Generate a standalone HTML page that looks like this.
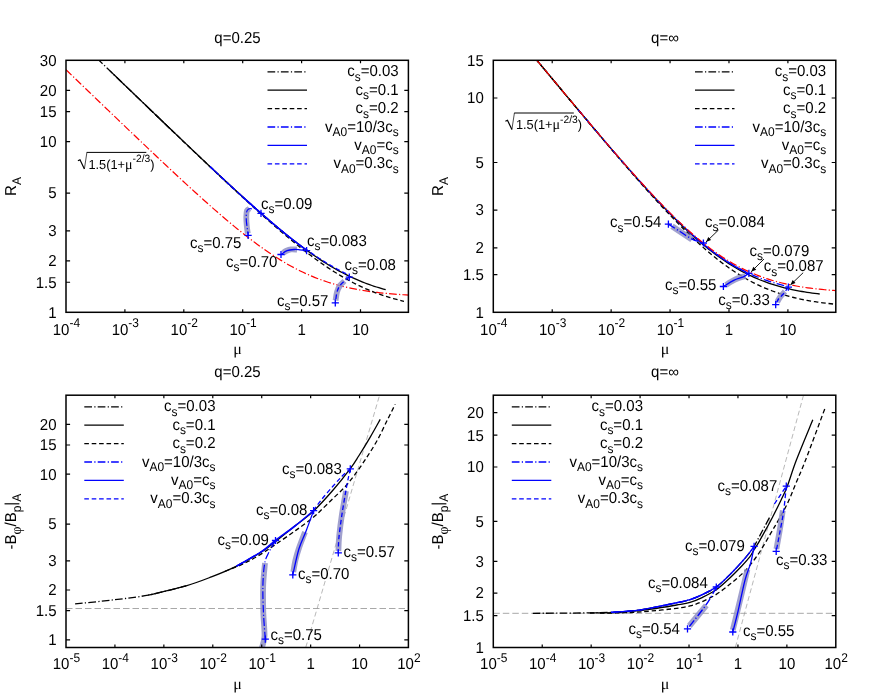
<!DOCTYPE html>
<html><head><meta charset="utf-8"><title>plot</title>
<style>html,body{margin:0;padding:0;background:#fff}svg{display:block;will-change:transform;opacity:0.9999}text{text-rendering:geometricPrecision}</style></head>
<body>
<svg width="872" height="698" viewBox="0 0 872 698">
<rect width="872" height="698" fill="#fff"/>
<clipPath id="c1"><rect x="66.0" y="60.3" width="342.4" height="252.0"/></clipPath>
<g clip-path="url(#c1)">
<path d="M66.00,69.73 L68.86,72.48 L71.71,75.24 L74.57,77.99 L77.43,80.74 L80.28,83.49 L83.14,86.24 L86.00,88.98 L88.85,91.73 L91.71,94.48 L94.57,97.23 L97.42,99.97 L100.28,102.71 L103.14,105.46 L105.99,108.20 L108.85,110.94 L111.71,113.68 L114.56,116.42 L117.42,119.15 L120.28,121.89 L123.13,124.62 L125.99,127.35 L128.85,130.08 L131.70,132.81 L134.56,135.53 L137.42,138.25 L140.27,140.97 L143.13,143.69 L145.99,146.40 L148.84,149.11 L151.70,151.82 L154.56,154.52 L157.41,157.22 L160.27,159.91 L163.13,162.60 L165.98,165.28 L168.84,167.96 L171.70,170.63 L174.55,173.29 L177.41,175.95 L180.27,178.60 L183.12,181.24 L185.98,183.87 L188.84,186.50 L191.69,189.11 L194.55,191.72 L197.41,194.31 L200.26,196.89 L203.12,199.46 L205.98,202.01 L208.83,204.55 L211.69,207.08 L214.55,209.58 L217.40,212.07 L220.26,214.55 L223.12,217.00 L225.97,219.43 L228.83,221.84 L231.69,224.23 L234.54,226.59 L237.40,228.92 L240.26,231.23 L243.11,233.51 L245.97,235.76 L248.83,237.98 L251.68,240.16 L254.54,242.31 L257.40,244.43 L260.25,246.51 L263.11,248.54 L265.97,250.54 L268.82,252.50 L271.68,254.41 L274.54,256.28 L277.39,258.10 L280.25,259.88 L283.11,261.61 L285.96,263.29 L288.82,264.92 L291.68,266.50 L294.53,268.03 L297.39,269.51 L300.25,270.94 L303.10,272.32 L305.96,273.65 L308.82,274.92 L311.67,276.15 L314.53,277.32 L317.39,278.44 L320.24,279.52 L323.10,280.54 L325.96,281.52 L328.81,282.46 L331.67,283.34 L334.53,284.19 L337.38,284.99 L340.24,285.74 L343.10,286.46 L345.95,287.14 L348.81,287.78 L351.66,288.39 L354.52,288.96 L357.38,289.50 L360.23,290.01 L363.09,290.48 L365.95,290.93 L368.80,291.35 L371.66,291.75 L374.52,292.12 L377.37,292.47 L380.23,292.79 L383.09,293.09 L385.94,293.38 L388.80,293.65 L391.66,293.90 L394.51,294.13 L397.37,294.35 L400.23,294.55 L403.08,294.74 L405.94,294.91 L408.80,295.08" fill="none" stroke="#ff0000" stroke-width="1.2" stroke-linecap="butt" stroke-linejoin="round" stroke-dasharray="7.7 2.3 1.2 2.2"/>
<path d="M97.00,58.37 L97.65,59.00 L98.30,59.63 L98.95,60.25 L99.60,60.88 L100.25,61.50 L100.90,62.13 L101.55,62.76 L102.20,63.38 L102.85,64.01 L103.50,64.64 L104.15,65.26 L104.80,65.89 L105.45,66.52 L106.10,67.14 L106.75,67.77 L107.40,68.40 L108.05,69.02 L108.70,69.65 L109.35,70.28 L110.00,70.90 L110.65,71.53 L111.30,72.15 L111.95,72.78 L112.60,73.41 L113.25,74.03 L113.90,74.66 L114.55,75.29 L115.20,75.91 L115.85,76.54 L116.50,77.16 L117.15,77.79 L117.80,78.42 L118.45,79.04 L119.10,79.67 L119.75,80.29 L120.40,80.92 L121.05,81.55 L121.70,82.17 L122.35,82.80 L123.00,83.42 L123.65,84.05 L124.30,84.68 L124.95,85.30 L125.60,85.93 L126.25,86.55 L126.90,87.18 L127.55,87.80 L128.20,88.43 L128.85,89.06 L129.50,89.68 L130.15,90.31 L130.80,90.93 L131.45,91.56 L132.10,92.18 L132.75,92.81 L133.40,93.43 L134.05,94.06 L134.70,94.68 L135.35,95.31 L136.00,95.93 L136.65,96.56 L137.30,97.18 L137.95,97.81 L138.60,98.43 L139.25,99.06 L139.90,99.68 L140.55,100.31 L141.20,100.93 L141.85,101.56 L142.50,102.18 L143.15,102.81 L143.80,103.43 L144.45,104.06 L145.10,104.68 L145.75,105.31 L146.40,105.93 L147.05,106.55 L147.70,107.18 L148.35,107.80 L149.00,108.43 L149.65,109.05 L150.30,109.68 L150.95,110.30 L151.60,110.92 L152.25,111.55 L152.90,112.17 L153.55,112.80 L154.20,113.42 L154.85,114.04 L155.50,114.67 L156.15,115.29 L156.80,115.91 L157.45,116.54 L158.10,117.16 L158.75,117.78 L159.40,118.41 L160.05,119.03 L160.70,119.65 L161.35,120.27 L162.00,120.90 L162.65,121.52 L163.30,122.14 L163.95,122.77 L164.60,123.39 L165.25,124.01 L165.90,124.63 L166.55,125.26 L167.20,125.88 L167.85,126.50 L168.50,127.12 L169.15,127.74 L169.80,128.37 L170.45,128.99 L171.10,129.61 L171.75,130.23 L172.40,130.85 L173.05,131.47 L173.70,132.09 L174.35,132.71 L175.00,133.34" fill="none" stroke="#000000" stroke-width="1.3" stroke-linecap="butt" stroke-linejoin="round" stroke-dasharray="7.7 2.3 1.2 2.2"/>
<path d="M150.00,109.43 L152.12,111.47 L154.23,113.50 L156.35,115.54 L158.47,117.57 L160.58,119.60 L162.70,121.63 L164.82,123.66 L166.93,125.69 L169.05,127.72 L171.17,129.75 L173.28,131.78 L175.40,133.81 L177.52,135.83 L179.63,137.86 L181.75,139.88 L183.87,141.91 L185.98,143.93 L188.10,145.95 L190.22,147.97 L192.33,149.99 L194.45,152.00 L196.57,154.02 L198.68,156.03 L200.80,158.04 L202.92,160.05 L205.03,162.06 L207.15,164.07 L209.27,166.07 L211.38,168.07 L213.50,170.07 L215.62,172.07 L217.73,174.06 L219.85,176.06 L221.97,178.04 L224.08,180.03 L226.20,182.01 L228.32,183.99 L230.43,185.97 L232.55,187.94 L234.67,189.91 L236.78,191.87 L238.90,193.83 L241.02,195.79 L243.13,197.74 L245.25,199.68 L247.37,201.62 L249.48,203.56 L251.60,205.49 L253.72,207.41 L255.83,209.33 L257.95,211.24 L260.07,213.14 L262.18,215.03 L264.30,216.92 L266.42,218.80 L268.53,220.67 L270.65,222.53 L272.77,224.38 L274.88,226.23 L277.00,228.06 L279.12,229.88 L281.23,231.69 L283.35,233.49 L285.47,235.28 L287.58,237.05 L289.70,238.81 L291.82,240.56 L293.93,242.29 L296.05,244.01 L298.17,245.71 L300.28,247.40 L302.40,249.07 L304.52,250.72 L306.63,252.36 L308.75,253.97 L310.87,255.57 L312.98,257.15 L315.10,258.71 L317.22,260.25 L319.33,261.76 L321.45,263.26 L323.57,264.73 L325.68,266.18 L327.80,267.61 L329.92,269.01 L332.03,270.38 L334.15,271.74 L336.27,273.06 L338.38,274.36 L340.50,275.64 L342.62,276.89 L344.73,278.11 L346.85,279.30 L348.97,280.47 L351.08,281.60 L353.20,282.71 L355.32,283.80 L357.43,284.85 L359.55,285.88 L361.67,286.88 L363.78,287.85 L365.90,288.79 L368.02,289.70 L370.13,290.59 L372.25,291.45 L374.37,292.28 L376.48,293.08 L378.60,293.86 L380.72,294.61 L382.83,295.33 L384.95,296.03 L387.07,296.71 L389.18,297.36 L391.30,297.98 L393.42,298.58 L395.53,299.16 L397.65,299.72 L399.77,300.25 L401.88,300.77 L404.00,301.26" fill="none" stroke="#000000" stroke-width="1.3" stroke-linecap="butt" stroke-linejoin="round" stroke-dasharray="4.6 2.8"/>
<path d="M110.00,70.90 L112.30,73.12 L114.59,75.33 L116.89,77.54 L119.19,79.75 L121.49,81.97 L123.78,84.18 L126.08,86.39 L128.38,88.60 L130.68,90.81 L132.98,93.02 L135.27,95.23 L137.57,97.44 L139.87,99.65 L142.16,101.86 L144.46,104.07 L146.76,106.28 L149.06,108.48 L151.35,110.69 L153.65,112.89 L155.95,115.10 L158.25,117.30 L160.54,119.50 L162.84,121.70 L165.14,123.91 L167.44,126.10 L169.73,128.30 L172.03,130.50 L174.33,132.70 L176.63,134.89 L178.93,137.08 L181.22,139.27 L183.52,141.46 L185.82,143.65 L188.12,145.84 L190.41,148.02 L192.71,150.20 L195.01,152.38 L197.31,154.56 L199.60,156.74 L201.90,158.91 L204.20,161.08 L206.50,163.25 L208.79,165.41 L211.09,167.57 L213.39,169.73 L215.69,171.88 L217.98,174.03 L220.28,176.18 L222.58,178.32 L224.88,180.45 L227.17,182.59 L229.47,184.71 L231.77,186.83 L234.06,188.95 L236.36,191.06 L238.66,193.16 L240.96,195.26 L243.25,197.35 L245.55,199.43 L247.85,201.50 L250.15,203.57 L252.44,205.63 L254.74,207.67 L257.04,209.71 L259.34,211.74 L261.63,213.76 L263.93,215.76 L266.23,217.76 L268.53,219.74 L270.83,221.71 L273.12,223.67 L275.42,225.61 L277.72,227.53 L280.01,229.44 L282.31,231.34 L284.61,233.22 L286.91,235.08 L289.20,236.92 L291.50,238.74 L293.80,240.55 L296.10,242.33 L298.39,244.09 L300.69,245.83 L302.99,247.54 L305.29,249.24 L307.58,250.90 L309.88,252.55 L312.18,254.17 L314.48,255.76 L316.77,257.32 L319.07,258.85 L321.37,260.36 L323.67,261.84 L325.96,263.29 L328.26,264.70 L330.56,266.09 L332.86,267.44 L335.16,268.77 L337.45,270.06 L339.75,271.32 L342.05,272.54 L344.35,273.74 L346.64,274.90 L348.94,276.02 L351.24,277.12 L353.54,278.18 L355.83,279.20 L358.13,280.20 L360.43,281.16 L362.73,282.09 L365.02,282.99 L367.32,283.85 L369.62,284.69 L371.92,285.49 L374.21,286.26 L376.51,287.00 L378.81,287.72 L381.11,288.40 L383.40,289.06 L385.70,289.69" fill="none" stroke="#000000" stroke-width="1.3" stroke-linecap="butt" stroke-linejoin="round"/>
<path d="M210.00,166.55 L210.80,167.30 L211.60,168.05 L212.40,168.80 L213.20,169.55 L214.00,170.30 L214.80,171.05 L215.60,171.80 L216.40,172.55 L217.20,173.30 L218.00,174.05 L218.80,174.80 L219.60,175.54 L220.40,176.29 L221.20,177.03 L222.00,177.78 L222.80,178.52 L223.60,179.27 L224.40,180.01 L225.20,180.76 L226.00,181.50 L226.80,182.24 L227.60,182.98 L228.40,183.72 L229.20,184.46 L230.00,185.20 L230.80,185.94 L231.60,186.68 L232.40,187.42 L233.20,188.15 L234.00,188.89 L234.80,189.63 L235.60,190.36 L236.40,191.09 L237.20,191.83 L238.00,192.56 L238.80,193.29 L239.60,194.02 L240.40,194.75 L241.20,195.48 L242.00,196.21 L242.80,196.93 L243.60,197.66 L244.40,198.39 L245.20,199.11 L246.00,199.83 L246.80,200.56 L247.60,201.28 L248.40,202.00 L249.20,202.72 L250.00,203.44 L250.80,204.15 L251.60,204.87 L252.40,205.59 L253.20,206.30 L254.00,207.01 L254.80,207.73 L255.60,208.44 L256.40,209.15 L257.20,209.85 L258.00,210.56 L258.80,211.27 L259.60,211.97 L260.40,212.67 L261.20,213.38 L262.00,214.08 L262.80,214.78 L263.60,215.47 L264.40,216.17 L265.20,216.87 L266.00,217.56 L266.80,218.25 L267.60,218.94 L268.40,219.63 L269.20,220.32 L270.00,221.00 L270.80,221.69 L271.60,222.37 L272.40,223.05 L273.20,223.73 L274.00,224.41 L274.80,225.08 L275.60,225.76 L276.40,226.43 L277.20,227.10 L278.00,227.77 L278.80,228.44 L279.60,229.10 L280.40,229.76 L281.20,230.42 L282.00,231.08 L282.80,231.74 L283.60,232.39 L284.40,233.05 L285.20,233.70 L286.00,234.34 L286.80,234.99 L287.60,235.63 L288.40,236.28 L289.20,236.92 L290.00,237.55 L290.80,238.19 L291.60,238.82 L292.40,239.45 L293.20,240.08 L294.00,240.70 L294.80,241.32 L295.60,241.94 L296.40,242.56 L297.20,243.18 L298.00,243.79 L298.80,244.40 L299.60,245.00 L300.40,245.61 L301.20,246.21 L302.00,246.81 L302.80,247.40 L303.60,248.00 L304.40,248.59 L305.20,249.17 L306.00,249.76 L306.00,249.28 L306.36,249.54 L306.72,249.80 L307.08,250.06 L307.44,250.31 L307.80,250.57 L308.16,250.83 L308.53,251.08 L308.89,251.34 L309.25,251.59 L309.61,251.84 L309.97,252.10 L310.33,252.35 L310.69,252.60 L311.05,252.85 L311.41,253.10 L311.77,253.35 L312.13,253.60 L312.50,253.85 L312.86,254.09 L313.22,254.34 L313.58,254.59 L313.94,254.83 L314.30,255.08 L314.66,255.32 L315.02,255.56 L315.38,255.81 L315.74,256.05 L316.10,256.29 L316.46,256.53 L316.83,256.77 L317.19,257.01 L317.55,257.25 L317.91,257.48 L318.27,257.72 L318.63,257.96 L318.99,258.19 L319.35,258.43 L319.71,258.66 L320.07,258.90 L320.43,259.13 L320.79,259.36 L321.15,259.59 L321.52,259.82 L321.88,260.05 L322.24,260.28 L322.60,260.51 L322.96,260.74 L323.32,260.96 L323.68,261.19 L324.04,261.41 L324.40,261.64 L324.76,261.86 L325.12,262.09 L325.48,262.31 L325.85,262.53 L326.21,262.75 L326.57,262.97 L326.93,263.19 L327.29,263.41 L327.65,263.62 L328.01,263.84 L328.37,264.06 L328.73,264.27 L329.09,264.49 L329.45,264.70 L329.81,264.91 L330.18,265.13 L330.54,265.34 L330.90,265.55 L331.26,265.76 L331.62,265.97 L331.98,266.18 L332.34,266.38 L332.70,266.59 L333.06,266.80 L333.42,267.00 L333.78,267.21 L334.14,267.41 L334.51,267.61 L334.87,267.81 L335.23,268.02 L335.59,268.22 L335.95,268.42 L336.31,268.61 L336.67,268.81 L337.03,269.01 L337.39,269.21 L337.75,269.40 L338.11,269.60 L338.47,269.79 L338.84,269.98 L339.20,270.18 L339.56,270.37 L339.92,270.56 L340.28,270.75 L340.64,270.94 L341.00,271.13 L341.36,271.31 L341.72,271.50 L342.08,271.69 L342.44,271.87 L342.81,272.05 L343.17,272.24 L343.53,272.42 L343.89,272.60 L344.25,272.78 L344.61,272.96 L344.97,273.14 L345.33,273.32 L345.69,273.50 L346.05,273.68 L346.41,273.85 L346.77,274.03 L347.13,274.20 L347.50,274.38 L347.86,274.55 L348.22,274.72 L348.58,274.89 L348.94,275.06 L349.30,275.23" fill="none" stroke="#0000ff" stroke-width="1.3" stroke-linecap="butt" stroke-linejoin="round" stroke-dasharray="4.6 2.8"/>
<path d="M210.00,166.55 L210.43,166.95 L210.85,167.35 L211.27,167.74 L211.70,168.14 L212.12,168.54 L212.55,168.94 L212.97,169.34 L213.40,169.74 L213.82,170.14 L214.25,170.54 L214.68,170.94 L215.10,171.33 L215.52,171.73 L215.95,172.13 L216.38,172.53 L216.80,172.93 L217.22,173.32 L217.65,173.72 L218.07,174.12 L218.50,174.51 L218.93,174.91 L219.35,175.31 L219.77,175.71 L220.20,176.10 L220.62,176.50 L221.05,176.89 L221.47,177.29 L221.90,177.69 L222.32,178.08 L222.75,178.48 L223.18,178.87 L223.60,179.27 L224.02,179.66 L224.45,180.06 L224.88,180.45 L225.30,180.85 L225.72,181.24 L226.15,181.64 L226.57,182.03 L227.00,182.43 L227.43,182.82 L227.85,183.21 L228.27,183.61 L228.70,184.00 L229.12,184.39 L229.55,184.79 L229.97,185.18 L230.40,185.57 L230.82,185.96 L231.25,186.36 L231.68,186.75 L232.10,187.14 L232.52,187.53 L232.95,187.92 L233.38,188.31 L233.80,188.71 L234.22,189.10 L234.65,189.49 L235.07,189.88 L235.50,190.27 L235.92,190.66 L236.35,191.05 L236.77,191.44 L237.20,191.83 L237.62,192.22 L238.05,192.60 L238.47,192.99 L238.90,193.38 L239.32,193.77 L239.75,194.16 L240.17,194.55 L240.60,194.93 L241.03,195.32 L241.45,195.71 L241.88,196.09 L242.30,196.48 L242.72,196.87 L243.15,197.25 L243.57,197.64 L244.00,198.02 L244.42,198.41 L244.85,198.79 L245.28,199.18 L245.70,199.56 L246.12,199.95 L246.55,200.33 L246.97,200.71 L247.40,201.10 L247.83,201.48 L248.25,201.86 L248.67,202.25 L249.10,202.63 L249.53,203.01 L249.95,203.39 L250.38,203.77 L250.80,204.15 L251.22,204.54 L251.65,204.92 L252.07,205.30 L252.50,205.68 L252.92,206.06 L253.35,206.43 L253.77,206.81 L254.20,207.19 L254.62,207.57 L255.05,207.95 L255.47,208.33 L255.90,208.70 L256.33,209.08 L256.75,209.46 L257.17,209.83 L257.60,210.21 L258.02,210.58 L258.45,210.96 L258.88,211.33 L259.30,211.71 L259.73,212.08 L260.15,212.46 L260.57,212.83 L261.00,213.20" fill="none" stroke="#0000ff" stroke-width="1.3" stroke-linecap="butt" stroke-linejoin="round" stroke-dasharray="7.7 2.3 1.2 2.2"/>
<path d="M244.00,198.02 L244.52,198.50 L245.04,198.97 L245.56,199.44 L246.08,199.91 L246.60,200.38 L247.12,200.85 L247.65,201.32 L248.17,201.79 L248.69,202.26 L249.21,202.73 L249.73,203.19 L250.25,203.66 L250.77,204.13 L251.29,204.60 L251.81,205.06 L252.33,205.53 L252.85,205.99 L253.38,206.46 L253.90,206.92 L254.42,207.38 L254.94,207.85 L255.46,208.31 L255.98,208.77 L256.50,209.23 L257.02,209.70 L257.54,210.16 L258.06,210.62 L258.58,211.08 L259.10,211.54 L259.62,211.99 L260.15,212.45 L260.67,212.91 L261.19,213.37 L261.71,213.82 L262.23,214.28 L262.75,214.73 L263.27,215.19 L263.79,215.64 L264.31,216.09 L264.83,216.55 L265.35,217.00 L265.88,217.45 L266.40,217.90 L266.92,218.35 L267.44,218.80 L267.96,219.25 L268.48,219.70 L269.00,220.15 L269.52,220.59 L270.04,221.04 L270.56,221.49 L271.08,221.93 L271.60,222.37 L272.12,222.82 L272.65,223.26 L273.17,223.70 L273.69,224.14 L274.21,224.58 L274.73,225.02 L275.25,225.46 L275.77,225.90 L276.29,226.34 L276.81,226.78 L277.33,227.21 L277.85,227.65 L278.38,228.08 L278.90,228.52 L279.42,228.95 L279.94,229.38 L280.46,229.81 L280.98,230.24 L281.50,230.67 L282.02,231.10 L282.54,231.53 L283.06,231.95 L283.58,232.38 L284.10,232.80 L284.62,233.23 L285.15,233.65 L285.67,234.07 L286.19,234.50 L286.71,234.92 L287.23,235.34 L287.75,235.75 L288.27,236.17 L288.79,236.59 L289.31,237.00 L289.83,237.42 L290.35,237.83 L290.88,238.25 L291.40,238.66 L291.92,239.07 L292.44,239.48 L292.96,239.89 L293.48,240.29 L294.00,240.70 L294.52,241.11 L295.04,241.51 L295.56,241.91 L296.08,242.32 L296.60,242.72 L297.12,243.12 L297.65,243.52 L298.17,243.91 L298.69,244.31 L299.21,244.71 L299.73,245.10 L300.25,245.49 L300.77,245.89 L301.29,246.28 L301.81,246.67 L302.33,247.06 L302.85,247.44 L303.38,247.83 L303.90,248.21 L304.42,248.60 L304.94,248.98 L305.46,249.36 L305.98,249.74 L306.50,250.12" fill="none" stroke="#0000ff" stroke-width="1.5" stroke-linecap="butt" stroke-linejoin="round"/>
<path d="M249.50,208.60 C249.08,208.92 247.53,209.10 247.00,210.50 C246.47,211.90 246.33,214.42 246.30,217.00 C246.27,219.58 246.55,223.25 246.80,226.00 C247.05,228.75 247.63,232.25 247.80,233.50" fill="none" stroke="#9090c6" stroke-width="5.8" stroke-linecap="butt" stroke-linejoin="round" stroke-opacity="0.85"/>
<path d="M252.00,208.80 C251.43,208.82 249.50,208.37 248.60,208.90 C247.70,209.43 246.98,210.15 246.60,212.00 C246.22,213.85 246.20,217.33 246.30,220.00 C246.40,222.67 246.88,225.45 247.20,228.00 C247.52,230.55 248.03,234.08 248.20,235.30" fill="none" stroke="#0000ff" stroke-width="1.2" stroke-linecap="butt" stroke-linejoin="round" stroke-dasharray="7.7 2.3 1.2 2.2"/>
<path d="M297.00,249.60 C296.00,249.57 292.83,249.17 291.00,249.40 C289.17,249.63 287.33,250.40 286.00,251.00 C284.67,251.60 283.50,252.67 283.00,253.00" fill="none" stroke="#9090c6" stroke-width="5.8" stroke-linecap="butt" stroke-linejoin="round" stroke-opacity="0.85"/>
<path d="M306.50,250.50 C305.42,250.38 302.03,249.97 300.00,249.80 C297.97,249.63 296.45,249.37 294.30,249.50 C292.15,249.63 289.32,249.77 287.10,250.60 C284.88,251.43 282.02,253.85 281.00,254.50" fill="none" stroke="#0000ff" stroke-width="1.3" stroke-linecap="butt" stroke-linejoin="round"/>
<path d="M344.50,281.00 C343.75,281.75 341.25,283.67 340.00,285.50 C338.75,287.33 337.73,289.50 337.00,292.00 C336.27,294.50 335.83,299.08 335.60,300.50" fill="none" stroke="#9090c6" stroke-width="5.8" stroke-linecap="butt" stroke-linejoin="round" stroke-opacity="0.85"/>
<path d="M349.30,277.10 C348.58,277.67 346.55,279.10 345.00,280.50 C343.45,281.90 341.33,283.58 340.00,285.50 C338.67,287.42 337.77,289.10 337.00,292.00 C336.23,294.90 335.67,301.08 335.40,302.90" fill="none" stroke="#0000ff" stroke-width="1.3" stroke-linecap="butt" stroke-linejoin="round" stroke-dasharray="4.6 2.8"/>
</g>
<path d="M257.40,213.30H264.60M261.00,209.70V216.90" stroke="#0000ff" stroke-width="1.3" fill="none"/>
<path d="M244.50,235.30H251.70M248.10,231.70V238.90" stroke="#0000ff" stroke-width="1.3" fill="none"/>
<path d="M303.00,250.60H310.20M306.60,247.00V254.20" stroke="#0000ff" stroke-width="1.3" fill="none"/>
<path d="M277.40,254.50H284.60M281.00,250.90V258.10" stroke="#0000ff" stroke-width="1.3" fill="none"/>
<path d="M345.70,277.10H352.90M349.30,273.50V280.70" stroke="#0000ff" stroke-width="1.3" fill="none"/>
<path d="M331.70,302.90H338.90M335.30,299.30V306.50" stroke="#0000ff" stroke-width="1.3" fill="none"/>
<rect x="66.0" y="60.3" width="342.4" height="252.0" fill="none" stroke="#000" stroke-width="1.5"/>
<path d="M124.90,312.3v-3.0M124.90,60.3v3.0M183.80,312.3v-3.0M183.80,60.3v3.0M242.70,312.3v-3.0M242.70,60.3v3.0M301.60,312.3v-3.0M301.60,60.3v3.0M360.50,312.3v-3.0M360.50,60.3v3.0" stroke="#000" stroke-width="1.2" fill="none"/>
<path d="M66.0,282.26h4.1M408.4,282.26h-4.1M66.0,260.94h4.1M408.4,260.94h-4.1M66.0,230.90h4.1M408.4,230.90h-4.1M66.0,193.06h4.1M408.4,193.06h-4.1M66.0,141.70h4.1M408.4,141.70h-4.1M66.0,111.66h4.1M408.4,111.66h-4.1M66.0,90.34h4.1M408.4,90.34h-4.1" stroke="#000" stroke-width="1.2" fill="none"/>
<text transform="translate(66.40,334.60) scale(0.95,1)" font-family='"Liberation Sans", sans-serif' font-size="15.8" text-anchor="middle">10<tspan font-size="12.6" dy="-7.5">-4</tspan></text>
<text transform="translate(125.30,334.60) scale(0.95,1)" font-family='"Liberation Sans", sans-serif' font-size="15.8" text-anchor="middle">10<tspan font-size="12.6" dy="-7.5">-3</tspan></text>
<text transform="translate(184.20,334.60) scale(0.95,1)" font-family='"Liberation Sans", sans-serif' font-size="15.8" text-anchor="middle">10<tspan font-size="12.6" dy="-7.5">-2</tspan></text>
<text transform="translate(243.10,334.60) scale(0.95,1)" font-family='"Liberation Sans", sans-serif' font-size="15.8" text-anchor="middle">10<tspan font-size="12.6" dy="-7.5">-1</tspan></text>
<text transform="translate(301.60,334.60) scale(0.95,1)" font-family='"Liberation Sans", sans-serif' font-size="15.8" text-anchor="middle" >1</text>
<text transform="translate(360.50,334.60) scale(0.95,1)" font-family='"Liberation Sans", sans-serif' font-size="15.8" text-anchor="middle" >10</text>
<text transform="translate(56.50,317.60) scale(0.95,1)" font-family='"Liberation Sans", sans-serif' font-size="15.8" text-anchor="end" >1</text>
<text transform="translate(56.50,287.56) scale(0.95,1)" font-family='"Liberation Sans", sans-serif' font-size="15.8" text-anchor="end" >1.5</text>
<text transform="translate(56.50,266.24) scale(0.95,1)" font-family='"Liberation Sans", sans-serif' font-size="15.8" text-anchor="end" >2</text>
<text transform="translate(56.50,236.20) scale(0.95,1)" font-family='"Liberation Sans", sans-serif' font-size="15.8" text-anchor="end" >3</text>
<text transform="translate(56.50,198.36) scale(0.95,1)" font-family='"Liberation Sans", sans-serif' font-size="15.8" text-anchor="end" >5</text>
<text transform="translate(56.50,147.00) scale(0.95,1)" font-family='"Liberation Sans", sans-serif' font-size="15.8" text-anchor="end" >10</text>
<text transform="translate(56.50,116.96) scale(0.95,1)" font-family='"Liberation Sans", sans-serif' font-size="15.8" text-anchor="end" >15</text>
<text transform="translate(56.50,95.64) scale(0.95,1)" font-family='"Liberation Sans", sans-serif' font-size="15.8" text-anchor="end" >20</text>
<text transform="translate(56.50,65.60) scale(0.95,1)" font-family='"Liberation Sans", sans-serif' font-size="15.8" text-anchor="end" >30</text>
<path d="M267.50,71.80H307.00" fill="none" stroke="#000000" stroke-width="1.3" stroke-linecap="butt" stroke-linejoin="round" stroke-dasharray="7.7 2.3 1.2 2.2"/>
<text transform="translate(398.70,76.40) scale(0.95,1)" font-family='"Liberation Sans", sans-serif' font-size="15.8" text-anchor="end">c<tspan font-size="12.6" dy="4.3">s</tspan><tspan dy="-4.3">=0.03</tspan></text>
<path d="M267.50,90.20H307.00" fill="none" stroke="#000000" stroke-width="1.3" stroke-linecap="butt" stroke-linejoin="round"/>
<text transform="translate(398.70,94.80) scale(0.95,1)" font-family='"Liberation Sans", sans-serif' font-size="15.8" text-anchor="end">c<tspan font-size="12.6" dy="4.3">s</tspan><tspan dy="-4.3">=0.1</tspan></text>
<path d="M267.50,108.60H307.00" fill="none" stroke="#000000" stroke-width="1.3" stroke-linecap="butt" stroke-linejoin="round" stroke-dasharray="4.6 2.8"/>
<text transform="translate(398.70,113.20) scale(0.95,1)" font-family='"Liberation Sans", sans-serif' font-size="15.8" text-anchor="end">c<tspan font-size="12.6" dy="4.3">s</tspan><tspan dy="-4.3">=0.2</tspan></text>
<path d="M267.50,127.00H307.00" fill="none" stroke="#0000ff" stroke-width="1.3" stroke-linecap="butt" stroke-linejoin="round" stroke-dasharray="7.7 2.3 1.2 2.2"/>
<text transform="translate(398.70,131.60) scale(0.95,1)" font-family='"Liberation Sans", sans-serif' font-size="15.8" text-anchor="end">v<tspan font-size="12.6" dy="4.3">A0</tspan><tspan dy="-4.3">=10/3c</tspan><tspan font-size="12.6" dy="4.3">s</tspan></text>
<path d="M267.50,145.40H307.00" fill="none" stroke="#0000ff" stroke-width="1.3" stroke-linecap="butt" stroke-linejoin="round"/>
<text transform="translate(398.70,150.00) scale(0.95,1)" font-family='"Liberation Sans", sans-serif' font-size="15.8" text-anchor="end">v<tspan font-size="12.6" dy="4.3">A0</tspan><tspan dy="-4.3">=c</tspan><tspan font-size="12.6" dy="4.3">s</tspan></text>
<path d="M267.50,163.80H307.00" fill="none" stroke="#0000ff" stroke-width="1.3" stroke-linecap="butt" stroke-linejoin="round" stroke-dasharray="4.6 2.8"/>
<text transform="translate(398.70,168.40) scale(0.95,1)" font-family='"Liberation Sans", sans-serif' font-size="15.8" text-anchor="end">v<tspan font-size="12.6" dy="4.3">A0</tspan><tspan dy="-4.3">=0.3c</tspan><tspan font-size="12.6" dy="4.3">s</tspan></text>
<path d="M77.90,160.70L80.00,159.70L84.40,168.90" fill="none" stroke="#000" stroke-width="1.2" stroke-linejoin="miter"/>
<path d="M84.40,168.90L86.90,152.40" fill="none" stroke="#000" stroke-width="0.7"/>
<path d="M86.70,152.40H146.30" fill="none" stroke="#000" stroke-width="1.0"/>
<text transform="translate(88.40,168.70) scale(0.97,1)" font-family='"Liberation Sans", sans-serif' font-size="13.2">1.5(1+<tspan font-family='"Liberation Serif", serif' font-size="14.5">μ</tspan><tspan font-size="10.6" dy="-6.3">-2/3</tspan><tspan dy="6.3">)</tspan></text>
<text transform="translate(261.00,208.70) scale(0.95,1)" font-family='"Liberation Sans", sans-serif' font-size="15.8" text-anchor="start">c<tspan font-size="12.6" dy="4.3">s</tspan><tspan dy="-4.3">=0.09</tspan></text>
<text transform="translate(190.00,247.50) scale(0.95,1)" font-family='"Liberation Sans", sans-serif' font-size="15.8" text-anchor="start">c<tspan font-size="12.6" dy="4.3">s</tspan><tspan dy="-4.3">=0.75</tspan></text>
<text transform="translate(307.00,245.50) scale(0.95,1)" font-family='"Liberation Sans", sans-serif' font-size="15.8" text-anchor="start">c<tspan font-size="12.6" dy="4.3">s</tspan><tspan dy="-4.3">=0.083</tspan></text>
<text transform="translate(226.00,267.00) scale(0.95,1)" font-family='"Liberation Sans", sans-serif' font-size="15.8" text-anchor="start">c<tspan font-size="12.6" dy="4.3">s</tspan><tspan dy="-4.3">=0.70</tspan></text>
<text transform="translate(344.50,270.00) scale(0.95,1)" font-family='"Liberation Sans", sans-serif' font-size="15.8" text-anchor="start">c<tspan font-size="12.6" dy="4.3">s</tspan><tspan dy="-4.3">=0.08</tspan></text>
<text transform="translate(277.00,306.00) scale(0.95,1)" font-family='"Liberation Sans", sans-serif' font-size="15.8" text-anchor="start">c<tspan font-size="12.6" dy="4.3">s</tspan><tspan dy="-4.3">=0.57</tspan></text>
<text transform="translate(237.50,42.50) scale(0.95,1)" font-family='"Liberation Sans", sans-serif' font-size="15.8" text-anchor="middle" >q=0.25</text>
<text x="237.5" y="354.4" font-family='"Liberation Serif", serif' font-size="16" text-anchor="middle">μ</text>
<text transform="translate(16,195.9) rotate(-90) scale(0.95,1)" font-family='"Liberation Sans", sans-serif' font-size="15.8">R<tspan font-size="12.6" dy="5">A</tspan></text>
<clipPath id="c2"><rect x="493.3" y="60.3" width="342.49999999999994" height="252.0"/></clipPath>
<g clip-path="url(#c2)">
<path d="M516.87,36.14 L519.53,39.35 L522.19,42.57 L524.85,45.78 L527.51,49.00 L530.17,52.21 L532.84,55.43 L535.50,58.64 L538.16,61.85 L540.82,65.06 L543.48,68.27 L546.14,71.47 L548.80,74.68 L551.46,77.88 L554.13,81.09 L556.79,84.29 L559.45,87.49 L562.11,90.68 L564.77,93.88 L567.43,97.07 L570.09,100.26 L572.75,103.45 L575.41,106.63 L578.08,109.82 L580.74,113.00 L583.40,116.17 L586.06,119.34 L588.72,122.51 L591.38,125.68 L594.04,128.84 L596.70,131.99 L599.37,135.14 L602.03,138.29 L604.69,141.43 L607.35,144.56 L610.01,147.69 L612.67,150.81 L615.33,153.92 L617.99,157.03 L620.66,160.12 L623.32,163.21 L625.98,166.29 L628.64,169.36 L631.30,172.41 L633.96,175.46 L636.62,178.49 L639.28,181.51 L641.95,184.52 L644.61,187.51 L647.27,190.49 L649.93,193.45 L652.59,196.39 L655.25,199.31 L657.91,202.22 L660.57,205.10 L663.24,207.96 L665.90,210.80 L668.56,213.62 L671.22,216.41 L673.88,219.17 L676.54,221.90 L679.20,224.61 L681.86,227.28 L684.52,229.92 L687.19,232.53 L689.85,235.10 L692.51,237.64 L695.17,240.13 L697.83,242.59 L700.49,245.00 L703.15,247.37 L705.81,249.70 L708.48,251.99 L711.14,254.22 L713.80,256.41 L716.46,258.54 L719.12,260.63 L721.78,262.67 L724.44,264.65 L727.10,266.58 L729.77,268.46 L732.43,270.28 L735.09,272.04 L737.75,273.75 L740.41,275.41 L743.07,277.00 L745.73,278.55 L748.39,280.03 L751.06,281.46 L753.72,282.84 L756.38,284.16 L759.04,285.43 L761.70,286.64 L764.36,287.81 L767.02,288.92 L769.68,289.98 L772.35,290.99 L775.01,291.96 L777.67,292.88 L780.33,293.75 L782.99,294.59 L785.65,295.37 L788.31,296.12 L790.97,296.83 L793.63,297.50 L796.30,298.14 L798.96,298.74 L801.62,299.31 L804.28,299.84 L806.94,300.35 L809.60,300.83 L812.26,301.28 L814.92,301.70 L817.59,302.10 L820.25,302.47 L822.91,302.83 L825.57,303.16 L828.23,303.47 L830.89,303.76 L833.55,304.03 L836.21,304.29" fill="none" stroke="#000000" stroke-width="1.3" stroke-linecap="butt" stroke-linejoin="round" stroke-dasharray="4.6 2.8"/>
<path d="M516.87,36.11 L519.39,39.15 L521.92,42.20 L524.44,45.25 L526.96,48.30 L529.49,51.34 L532.01,54.38 L534.53,57.43 L537.06,60.47 L539.58,63.51 L542.10,66.55 L544.63,69.59 L547.15,72.62 L549.67,75.66 L552.20,78.69 L554.72,81.72 L557.25,84.75 L559.77,87.78 L562.29,90.81 L564.82,93.83 L567.34,96.85 L569.86,99.87 L572.39,102.88 L574.91,105.90 L577.43,108.91 L579.96,111.91 L582.48,114.91 L585.01,117.91 L587.53,120.91 L590.05,123.90 L592.58,126.88 L595.10,129.86 L597.62,132.84 L600.15,135.81 L602.67,138.77 L605.19,141.73 L607.72,144.68 L610.24,147.63 L612.76,150.56 L615.29,153.49 L617.81,156.41 L620.34,159.32 L622.86,162.23 L625.38,165.12 L627.91,168.00 L630.43,170.87 L632.95,173.72 L635.48,176.57 L638.00,179.40 L640.52,182.22 L643.05,185.02 L645.57,187.80 L648.10,190.57 L650.62,193.32 L653.14,196.05 L655.67,198.77 L658.19,201.46 L660.71,204.13 L663.24,206.77 L665.76,209.40 L668.28,212.00 L670.81,214.57 L673.33,217.11 L675.85,219.62 L678.38,222.11 L680.90,224.56 L683.43,226.98 L685.95,229.37 L688.47,231.72 L691.00,234.04 L693.52,236.32 L696.04,238.55 L698.57,240.75 L701.09,242.91 L703.61,245.03 L706.14,247.10 L708.66,249.13 L711.19,251.11 L713.71,253.04 L716.23,254.93 L718.76,256.77 L721.28,258.56 L723.80,260.31 L726.33,262.00 L728.85,263.64 L731.37,265.24 L733.90,266.78 L736.42,268.27 L738.94,269.72 L741.47,271.11 L743.99,272.45 L746.52,273.75 L749.04,274.99 L751.56,276.19 L754.09,277.34 L756.61,278.44 L759.13,279.49 L761.66,280.51 L764.18,281.47 L766.70,282.40 L769.23,283.28 L771.75,284.12 L774.28,284.92 L776.80,285.69 L779.32,286.42 L781.85,287.11 L784.37,287.76 L786.89,288.39 L789.42,288.98 L791.94,289.54 L794.46,290.07 L796.99,290.57 L799.51,291.05 L802.03,291.50 L804.56,291.92 L807.08,292.33 L809.61,292.71 L812.13,293.06 L814.65,293.40 L817.18,293.72 L819.70,294.02" fill="none" stroke="#000000" stroke-width="1.3" stroke-linecap="butt" stroke-linejoin="round"/>
<path d="M516.87,36.09 L517.56,36.92 L518.25,37.76 L518.95,38.60 L519.64,39.43 L520.33,40.27 L521.02,41.11 L521.72,41.94 L522.41,42.78 L523.10,43.61 L523.80,44.45 L524.49,45.29 L525.18,46.12 L525.87,46.96 L526.57,47.79 L527.26,48.63 L527.95,49.46 L528.65,50.30 L529.34,51.13 L530.03,51.97 L530.72,52.80 L531.42,53.64 L532.11,54.47 L532.80,55.31 L533.49,56.14 L534.19,56.98 L534.88,57.81 L535.57,58.65 L536.27,59.48 L536.96,60.32 L537.65,61.15 L538.34,61.99 L539.04,62.82 L539.73,63.65 L540.42,64.49 L541.11,65.32 L541.81,66.15 L542.50,66.99 L543.19,67.82 L543.89,68.65 L544.58,69.49 L545.27,70.32 L545.96,71.15 L546.66,71.99 L547.35,72.82 L548.04,73.65 L548.74,74.48 L549.43,75.32 L550.12,76.15 L550.81,76.98 L551.51,77.81 L552.20,78.64 L552.89,79.48 L553.58,80.31 L554.28,81.14 L554.97,81.97 L555.66,82.80 L556.36,83.63 L557.05,84.46 L557.74,85.29 L558.43,86.12 L559.13,86.95 L559.82,87.78 L560.51,88.61 L561.21,89.44 L561.90,90.27 L562.59,91.10 L563.28,91.93 L563.98,92.76 L564.67,93.59 L565.36,94.41 L566.05,95.24 L566.75,96.07 L567.44,96.90 L568.13,97.72 L568.83,98.55 L569.52,99.38 L570.21,100.21 L570.90,101.03 L571.60,101.86 L572.29,102.69 L572.98,103.51 L573.67,104.34 L574.37,105.16 L575.06,105.99 L575.75,106.81 L576.45,107.64 L577.14,108.46 L577.83,109.28 L578.52,110.11 L579.22,110.93 L579.91,111.75 L580.60,112.58 L581.30,113.40 L581.99,114.22 L582.68,115.04 L583.37,115.87 L584.07,116.69 L584.76,117.51 L585.45,118.33 L586.14,119.15 L586.84,119.97 L587.53,120.79 L588.22,121.61 L588.92,122.43 L589.61,123.24 L590.30,124.06 L590.99,124.88 L591.69,125.70 L592.38,126.51 L593.07,127.33 L593.77,128.15 L594.46,128.96 L595.15,129.78 L595.84,130.59 L596.54,131.41 L597.23,132.22 L597.92,133.03 L598.61,133.85 L599.31,134.66 L600.00,135.47" fill="none" stroke="#000000" stroke-width="1.3" stroke-linecap="butt" stroke-linejoin="round" stroke-dasharray="7.7 2.3 1.2 2.2"/>
<path d="M578.00,109.53 L579.75,111.62 L581.51,113.70 L583.26,115.79 L585.01,117.87 L586.77,119.94 L588.52,122.02 L590.27,124.09 L592.03,126.17 L593.78,128.24 L595.53,130.30 L597.29,132.37 L599.04,134.43 L600.79,136.49 L602.55,138.54 L604.30,140.59 L606.05,142.64 L607.81,144.69 L609.56,146.73 L611.31,148.77 L613.07,150.80 L614.82,152.83 L616.57,154.85 L618.33,156.88 L620.08,158.89 L621.83,160.90 L623.59,162.91 L625.34,164.91 L627.09,166.91 L628.85,168.90 L630.60,170.88 L632.35,172.86 L634.11,174.83 L635.86,176.80 L637.61,178.75 L639.37,180.70 L641.12,182.65 L642.87,184.58 L644.63,186.51 L646.38,188.43 L648.13,190.34 L649.89,192.24 L651.64,194.14 L653.39,196.02 L655.15,197.89 L656.90,199.75 L658.65,201.60 L660.41,203.44 L662.16,205.27 L663.91,207.09 L665.67,208.90 L667.42,210.69 L669.17,212.47 L670.93,214.23 L672.68,215.98 L674.43,217.72 L676.19,219.44 L677.94,221.15 L679.69,222.84 L681.45,224.52 L683.20,226.18 L684.95,227.82 L686.71,229.45 L688.46,231.06 L690.21,232.65 L691.97,234.22 L693.72,235.77 L695.47,237.30 L697.23,238.82 L698.98,240.31 L700.73,241.78 L702.49,243.23 L704.24,244.67 L705.99,246.07 L707.75,247.46 L709.50,248.83 L711.25,250.17 L713.01,251.49 L714.76,252.79 L716.51,254.06 L718.27,255.31 L720.02,256.54 L721.77,257.74 L723.53,258.92 L725.28,260.08 L727.03,261.21 L728.79,262.31 L730.54,263.40 L732.29,264.45 L734.05,265.49 L735.80,266.50 L737.55,267.48 L739.31,268.45 L741.06,269.38 L742.81,270.30 L744.57,271.19 L746.32,272.05 L748.07,272.90 L749.83,273.72 L751.58,274.51 L753.33,275.29 L755.09,276.04 L756.84,276.77 L758.59,277.48 L760.35,278.16 L762.10,278.83 L763.85,279.47 L765.61,280.10 L767.36,280.70 L769.11,281.29 L770.87,281.86 L772.62,282.40 L774.37,282.93 L776.13,283.44 L777.88,283.94 L779.63,284.41 L781.39,284.87 L783.14,285.32 L784.89,285.74 L786.65,286.16 L788.40,286.55" fill="none" stroke="#0000ff" stroke-width="1.3" stroke-linecap="butt" stroke-linejoin="round" stroke-dasharray="7.7 2.3 1.2 2.2"/>
<path d="M690.00,232.62 L690.49,233.07 L690.98,233.51 L691.47,233.95 L691.96,234.39 L692.45,234.83 L692.95,235.26 L693.44,235.70 L693.93,236.13 L694.42,236.56 L694.91,237.00 L695.40,237.42 L695.89,237.85 L696.38,238.28 L696.87,238.70 L697.36,239.13 L697.85,239.55 L698.34,239.97 L698.84,240.39 L699.33,240.80 L699.82,241.22 L700.31,241.63 L700.80,242.04 L701.29,242.45 L701.78,242.86 L702.27,243.27 L702.76,243.67 L703.25,244.08 L703.74,244.48 L704.23,244.88 L704.73,245.28 L705.22,245.67 L705.71,246.07 L706.20,246.46 L706.69,246.85 L707.18,247.25 L707.67,247.63 L708.16,248.02 L708.65,248.40 L709.14,248.79 L709.63,249.17 L710.12,249.55 L710.62,249.93 L711.11,250.30 L711.60,250.68 L712.09,251.05 L712.58,251.42 L713.07,251.79 L713.56,252.16 L714.05,252.52 L714.54,252.89 L715.03,253.25 L715.52,253.61 L716.01,253.97 L716.50,254.32 L717.00,254.68 L717.49,255.03 L717.98,255.38 L718.47,255.73 L718.96,256.08 L719.45,256.42 L719.94,256.77 L720.43,257.11 L720.92,257.45 L721.41,257.78 L721.90,258.12 L722.39,258.45 L722.89,258.79 L723.38,259.12 L723.87,259.45 L724.36,259.77 L724.85,260.10 L725.34,260.42 L725.83,260.74 L726.32,261.06 L726.81,261.38 L727.30,261.69 L727.79,262.00 L728.28,262.32 L728.78,262.63 L729.27,262.93 L729.76,263.24 L730.25,263.54 L730.74,263.85 L731.23,264.15 L731.72,264.44 L732.21,264.74 L732.70,265.03 L733.19,265.33 L733.68,265.62 L734.17,265.91 L734.67,266.19 L735.16,266.48 L735.65,266.76 L736.14,267.04 L736.63,267.32 L737.12,267.60 L737.61,267.87 L738.10,268.15 L738.59,268.42 L739.08,268.69 L739.57,268.95 L740.07,269.22 L740.56,269.48 L741.05,269.75 L741.54,270.01 L742.03,270.27 L742.52,270.52 L743.01,270.78 L743.50,271.03 L743.99,271.28 L744.48,271.53 L744.97,271.78 L745.46,272.02 L745.95,272.27 L746.45,272.51 L746.94,272.75 L747.43,272.99 L747.92,273.22 L748.41,273.46 L748.90,273.69" fill="none" stroke="#0000ff" stroke-width="1.3" stroke-linecap="butt" stroke-linejoin="round"/>
<path d="M493.30,7.60 L496.16,11.06 L499.02,14.51 L501.87,17.97 L504.73,21.42 L507.59,24.88 L510.45,28.33 L513.30,31.78 L516.16,35.23 L519.02,38.68 L521.88,42.13 L524.73,45.58 L527.59,49.03 L530.45,52.47 L533.31,55.92 L536.16,59.36 L539.02,62.80 L541.88,66.24 L544.74,69.68 L547.59,73.11 L550.45,76.55 L553.31,79.98 L556.17,83.40 L559.03,86.83 L561.88,90.25 L564.74,93.67 L567.60,97.09 L570.46,100.50 L573.31,103.91 L576.17,107.31 L579.03,110.71 L581.89,114.10 L584.74,117.49 L587.60,120.87 L590.46,124.25 L593.32,127.62 L596.17,130.98 L599.03,134.34 L601.89,137.68 L604.75,141.02 L607.60,144.35 L610.46,147.67 L613.32,150.98 L616.18,154.27 L619.04,157.56 L621.89,160.83 L624.75,164.08 L627.61,167.33 L630.47,170.55 L633.32,173.76 L636.18,176.95 L639.04,180.12 L641.90,183.27 L644.75,186.40 L647.61,189.51 L650.47,192.59 L653.33,195.64 L656.18,198.67 L659.04,201.67 L661.90,204.63 L664.76,207.57 L667.61,210.47 L670.47,213.33 L673.33,216.16 L676.19,218.94 L679.05,221.69 L681.90,224.39 L684.76,227.04 L687.62,229.65 L690.48,232.21 L693.33,234.72 L696.19,237.18 L699.05,239.58 L701.91,241.93 L704.76,244.22 L707.62,246.45 L710.48,248.62 L713.34,250.73 L716.19,252.78 L719.05,254.77 L721.91,256.69 L724.77,258.55 L727.62,260.35 L730.48,262.08 L733.34,263.74 L736.20,265.35 L739.06,266.88 L741.91,268.36 L744.77,269.77 L747.63,271.12 L750.49,272.41 L753.34,273.64 L756.20,274.81 L759.06,275.93 L761.92,276.98 L764.77,277.99 L767.63,278.94 L770.49,279.84 L773.35,280.70 L776.20,281.50 L779.06,282.26 L781.92,282.98 L784.78,283.66 L787.63,284.30 L790.49,284.89 L793.35,285.46 L796.21,285.99 L799.07,286.48 L801.92,286.95 L804.78,287.38 L807.64,287.79 L810.50,288.18 L813.35,288.53 L816.21,288.87 L819.07,289.18 L821.93,289.47 L824.78,289.75 L827.64,290.00 L830.50,290.24 L833.36,290.46 L836.21,290.67" fill="none" stroke="#ff0000" stroke-width="1.2" stroke-linecap="butt" stroke-linejoin="round" stroke-dasharray="7.7 2.3 1.2 2.2"/>
<path d="M672.00,226.20 L692.00,239.40" fill="none" stroke="#9090c6" stroke-width="6" stroke-linecap="butt" stroke-linejoin="round" stroke-opacity="0.85"/>
<path d="M668.40,224.10 C670.33,225.33 676.07,229.02 680.00,231.50 C683.93,233.98 688.10,237.08 692.00,239.00 C695.90,240.92 701.50,242.33 703.40,243.00" fill="none" stroke="#0000ff" stroke-width="1.4" stroke-linecap="butt" stroke-linejoin="round" stroke-dasharray="7.7 2.3 1.2 2.2"/>
<path d="M745.50,276.00 C744.25,276.38 740.42,277.33 738.00,278.30 C735.58,279.27 733.00,280.68 731.00,281.80 C729.00,282.92 726.83,284.47 726.00,285.00" fill="none" stroke="#9090c6" stroke-width="5.8" stroke-linecap="butt" stroke-linejoin="round" stroke-opacity="0.85"/>
<path d="M748.90,273.40 C747.98,273.97 745.92,275.65 743.40,276.80 C740.88,277.95 737.08,278.68 733.75,280.30 C730.42,281.92 725.12,285.47 723.40,286.50" fill="none" stroke="#0000ff" stroke-width="1.3" stroke-linecap="butt" stroke-linejoin="round"/>
<path d="M785.00,291.50 C784.25,292.33 781.78,294.75 780.50,296.50 C779.22,298.25 777.83,301.08 777.30,302.00" fill="none" stroke="#9090c6" stroke-width="5.8" stroke-linecap="butt" stroke-linejoin="round" stroke-opacity="0.85"/>
<path d="M788.40,287.10 C787.55,288.25 784.95,292.02 783.30,294.00 C781.65,295.98 779.77,297.23 778.50,299.00 C777.23,300.77 776.17,303.67 775.70,304.60" fill="none" stroke="#0000ff" stroke-width="1.3" stroke-linecap="butt" stroke-linejoin="round" stroke-dasharray="4.6 2.8"/>
</g>
<path d="M664.80,224.10H672.00M668.40,220.50V227.70" stroke="#0000ff" stroke-width="1.3" fill="none"/>
<path d="M699.80,243.00H707.00M703.40,239.40V246.60" stroke="#0000ff" stroke-width="1.3" fill="none"/>
<path d="M745.30,273.40H752.50M748.90,269.80V277.00" stroke="#0000ff" stroke-width="1.3" fill="none"/>
<path d="M719.80,286.50H727.00M723.40,282.90V290.10" stroke="#0000ff" stroke-width="1.3" fill="none"/>
<path d="M784.80,287.10H792.00M788.40,283.50V290.70" stroke="#0000ff" stroke-width="1.3" fill="none"/>
<path d="M772.10,304.60H779.30M775.70,301.00V308.20" stroke="#0000ff" stroke-width="1.3" fill="none"/>
<rect x="493.3" y="60.3" width="342.49999999999994" height="252.0" fill="none" stroke="#000" stroke-width="1.5"/>
<path d="M552.22,312.3v-3.0M552.22,60.3v3.0M611.14,312.3v-3.0M611.14,60.3v3.0M670.06,312.3v-3.0M670.06,60.3v3.0M728.98,312.3v-3.0M728.98,60.3v3.0M787.90,312.3v-3.0M787.90,60.3v3.0" stroke="#000" stroke-width="1.2" fill="none"/>
<path d="M493.3,274.56h4.1M835.8,274.56h-4.1M493.3,247.79h4.1M835.8,247.79h-4.1M493.3,210.05h4.1M835.8,210.05h-4.1M493.3,162.51h4.1M835.8,162.51h-4.1M493.3,98.00h4.1M835.8,98.00h-4.1" stroke="#000" stroke-width="1.2" fill="none"/>
<text transform="translate(493.70,334.60) scale(0.95,1)" font-family='"Liberation Sans", sans-serif' font-size="15.8" text-anchor="middle">10<tspan font-size="12.6" dy="-7.5">-4</tspan></text>
<text transform="translate(552.62,334.60) scale(0.95,1)" font-family='"Liberation Sans", sans-serif' font-size="15.8" text-anchor="middle">10<tspan font-size="12.6" dy="-7.5">-3</tspan></text>
<text transform="translate(611.54,334.60) scale(0.95,1)" font-family='"Liberation Sans", sans-serif' font-size="15.8" text-anchor="middle">10<tspan font-size="12.6" dy="-7.5">-2</tspan></text>
<text transform="translate(670.46,334.60) scale(0.95,1)" font-family='"Liberation Sans", sans-serif' font-size="15.8" text-anchor="middle">10<tspan font-size="12.6" dy="-7.5">-1</tspan></text>
<text transform="translate(728.98,334.60) scale(0.95,1)" font-family='"Liberation Sans", sans-serif' font-size="15.8" text-anchor="middle" >1</text>
<text transform="translate(787.90,334.60) scale(0.95,1)" font-family='"Liberation Sans", sans-serif' font-size="15.8" text-anchor="middle" >10</text>
<text transform="translate(483.80,317.60) scale(0.95,1)" font-family='"Liberation Sans", sans-serif' font-size="15.8" text-anchor="end" >1</text>
<text transform="translate(483.80,279.86) scale(0.95,1)" font-family='"Liberation Sans", sans-serif' font-size="15.8" text-anchor="end" >1.5</text>
<text transform="translate(483.80,253.09) scale(0.95,1)" font-family='"Liberation Sans", sans-serif' font-size="15.8" text-anchor="end" >2</text>
<text transform="translate(483.80,215.35) scale(0.95,1)" font-family='"Liberation Sans", sans-serif' font-size="15.8" text-anchor="end" >3</text>
<text transform="translate(483.80,167.81) scale(0.95,1)" font-family='"Liberation Sans", sans-serif' font-size="15.8" text-anchor="end" >5</text>
<text transform="translate(483.80,103.30) scale(0.95,1)" font-family='"Liberation Sans", sans-serif' font-size="15.8" text-anchor="end" >10</text>
<text transform="translate(483.80,65.56) scale(0.95,1)" font-family='"Liberation Sans", sans-serif' font-size="15.8" text-anchor="end" >15</text>
<path d="M695.00,71.80H734.50" fill="none" stroke="#000000" stroke-width="1.3" stroke-linecap="butt" stroke-linejoin="round" stroke-dasharray="7.7 2.3 1.2 2.2"/>
<text transform="translate(826.20,76.40) scale(0.95,1)" font-family='"Liberation Sans", sans-serif' font-size="15.8" text-anchor="end">c<tspan font-size="12.6" dy="4.3">s</tspan><tspan dy="-4.3">=0.03</tspan></text>
<path d="M695.00,90.20H734.50" fill="none" stroke="#000000" stroke-width="1.3" stroke-linecap="butt" stroke-linejoin="round"/>
<text transform="translate(826.20,94.80) scale(0.95,1)" font-family='"Liberation Sans", sans-serif' font-size="15.8" text-anchor="end">c<tspan font-size="12.6" dy="4.3">s</tspan><tspan dy="-4.3">=0.1</tspan></text>
<path d="M695.00,108.60H734.50" fill="none" stroke="#000000" stroke-width="1.3" stroke-linecap="butt" stroke-linejoin="round" stroke-dasharray="4.6 2.8"/>
<text transform="translate(826.20,113.20) scale(0.95,1)" font-family='"Liberation Sans", sans-serif' font-size="15.8" text-anchor="end">c<tspan font-size="12.6" dy="4.3">s</tspan><tspan dy="-4.3">=0.2</tspan></text>
<path d="M695.00,127.00H734.50" fill="none" stroke="#0000ff" stroke-width="1.3" stroke-linecap="butt" stroke-linejoin="round" stroke-dasharray="7.7 2.3 1.2 2.2"/>
<text transform="translate(826.20,131.60) scale(0.95,1)" font-family='"Liberation Sans", sans-serif' font-size="15.8" text-anchor="end">v<tspan font-size="12.6" dy="4.3">A0</tspan><tspan dy="-4.3">=10/3c</tspan><tspan font-size="12.6" dy="4.3">s</tspan></text>
<path d="M695.00,145.40H734.50" fill="none" stroke="#0000ff" stroke-width="1.3" stroke-linecap="butt" stroke-linejoin="round"/>
<text transform="translate(826.20,150.00) scale(0.95,1)" font-family='"Liberation Sans", sans-serif' font-size="15.8" text-anchor="end">v<tspan font-size="12.6" dy="4.3">A0</tspan><tspan dy="-4.3">=c</tspan><tspan font-size="12.6" dy="4.3">s</tspan></text>
<path d="M695.00,163.80H734.50" fill="none" stroke="#0000ff" stroke-width="1.3" stroke-linecap="butt" stroke-linejoin="round" stroke-dasharray="4.6 2.8"/>
<text transform="translate(826.20,168.40) scale(0.95,1)" font-family='"Liberation Sans", sans-serif' font-size="15.8" text-anchor="end">v<tspan font-size="12.6" dy="4.3">A0</tspan><tspan dy="-4.3">=0.3c</tspan><tspan font-size="12.6" dy="4.3">s</tspan></text>
<path d="M505.40,121.30L507.50,120.30L511.90,129.50" fill="none" stroke="#000" stroke-width="1.2" stroke-linejoin="miter"/>
<path d="M511.90,129.50L514.40,113.00" fill="none" stroke="#000" stroke-width="0.7"/>
<path d="M514.20,113.00H573.80" fill="none" stroke="#000" stroke-width="1.0"/>
<text transform="translate(515.90,129.30) scale(0.97,1)" font-family='"Liberation Sans", sans-serif' font-size="13.2">1.5(1+<tspan font-family='"Liberation Serif", serif' font-size="14.5">μ</tspan><tspan font-size="10.6" dy="-6.3">-2/3</tspan><tspan dy="6.3">)</tspan></text>
<text transform="translate(610.00,227.40) scale(0.95,1)" font-family='"Liberation Sans", sans-serif' font-size="15.8" text-anchor="start">c<tspan font-size="12.6" dy="4.3">s</tspan><tspan dy="-4.3">=0.54</tspan></text>
<text transform="translate(705.00,226.80) scale(0.95,1)" font-family='"Liberation Sans", sans-serif' font-size="15.8" text-anchor="start">c<tspan font-size="12.6" dy="4.3">s</tspan><tspan dy="-4.3">=0.084</tspan></text>
<text transform="translate(749.50,255.50) scale(0.95,1)" font-family='"Liberation Sans", sans-serif' font-size="15.8" text-anchor="start">c<tspan font-size="12.6" dy="4.3">s</tspan><tspan dy="-4.3">=0.079</tspan></text>
<text transform="translate(763.80,271.30) scale(0.95,1)" font-family='"Liberation Sans", sans-serif' font-size="15.8" text-anchor="start">c<tspan font-size="12.6" dy="4.3">s</tspan><tspan dy="-4.3">=0.087</tspan></text>
<text transform="translate(665.00,290.00) scale(0.95,1)" font-family='"Liberation Sans", sans-serif' font-size="15.8" text-anchor="start">c<tspan font-size="12.6" dy="4.3">s</tspan><tspan dy="-4.3">=0.55</tspan></text>
<text transform="translate(718.30,305.00) scale(0.95,1)" font-family='"Liberation Sans", sans-serif' font-size="15.8" text-anchor="start">c<tspan font-size="12.6" dy="4.3">s</tspan><tspan dy="-4.3">=0.33</tspan></text>
<path d="M718.50,230.00L706.00,242.00" stroke="#000" stroke-width="0.9" fill="none"/>
<path d="M706.00,242.00L708.27,236.99L711.10,239.93Z" fill="#000"/>
<path d="M764.00,259.00L751.20,271.80" stroke="#000" stroke-width="0.9" fill="none"/>
<path d="M751.20,271.80L753.37,266.75L756.25,269.63Z" fill="#000"/>
<path d="M803.20,272.70L790.40,285.00" stroke="#000" stroke-width="0.9" fill="none"/>
<path d="M790.40,285.00L792.67,279.99L795.50,282.93Z" fill="#000"/>
<text transform="translate(665.00,42.50) scale(0.95,1)" font-family='"Liberation Sans", sans-serif' font-size="15.8" text-anchor="middle" >q=∞</text>
<text x="665" y="354.4" font-family='"Liberation Serif", serif' font-size="16" text-anchor="middle">μ</text>
<text transform="translate(443.3,195.9) rotate(-90) scale(0.95,1)" font-family='"Liberation Sans", sans-serif' font-size="15.8">R<tspan font-size="12.6" dy="5">A</tspan></text>
<clipPath id="c3"><rect x="66.0" y="395.2" width="342.4" height="252.3"/></clipPath>
<g clip-path="url(#c3)">
<path d="M66.0,608.5H408.4" fill="none" stroke="#a8a8a8" stroke-width="1.0" stroke-linecap="butt" stroke-linejoin="round" stroke-dasharray="6.5 3"/>
<path d="M305.8,647.25L379.8,394.5" fill="none" stroke="#999" stroke-width="0.7" stroke-linecap="butt" stroke-linejoin="round" stroke-dasharray="5 3"/>
<path d="M75.10,603.90 C81.00,603.28 98.30,601.67 110.50,600.20 C122.70,598.73 135.70,597.50 148.30,595.10 C160.90,592.70 179.80,587.35 186.10,585.80" fill="none" stroke="#000000" stroke-width="1.3" stroke-linecap="butt" stroke-linejoin="round" stroke-dasharray="7.7 2.3 1.2 2.2"/>
<path d="M225.00,571.30 C228.33,569.92 238.87,565.95 245.00,563.00 C251.13,560.05 256.67,556.72 261.80,553.60 C266.93,550.48 270.13,548.17 275.80,544.30 C281.47,540.43 289.60,534.85 295.80,530.40 C302.00,525.95 308.97,520.80 313.00,517.60 C317.03,514.40 316.83,514.22 320.00,511.20 C323.17,508.18 327.95,503.45 332.00,499.50 C336.05,495.55 340.57,491.53 344.30,487.50 C348.03,483.47 350.82,480.08 354.40,475.30 C357.98,470.52 361.98,464.65 365.80,458.80 C369.62,452.95 373.72,446.65 377.30,440.20 C380.88,433.75 384.32,426.08 387.30,420.10 C390.28,414.12 393.88,406.93 395.20,404.30" fill="none" stroke="#000000" stroke-width="1.3" stroke-linecap="butt" stroke-linejoin="round" stroke-dasharray="4.6 2.8"/>
<path d="M148.30,595.10 C154.60,593.55 175.58,588.83 186.10,585.80 C196.62,582.77 202.98,580.18 211.40,576.90 C219.82,573.62 228.20,570.30 236.60,566.10 C245.00,561.90 255.23,555.85 261.80,551.70 C268.37,547.55 270.33,545.60 276.00,541.20 C281.67,536.80 289.63,530.23 295.80,525.30 C301.97,520.37 306.82,517.43 313.00,511.60 C319.18,505.77 326.72,497.42 332.90,490.30 C339.08,483.18 345.80,474.62 350.10,468.90 C354.40,463.18 355.37,461.27 358.70,456.00 C362.03,450.73 366.52,443.40 370.10,437.30 C373.68,431.20 378.52,422.38 380.20,419.40" fill="none" stroke="#000000" stroke-width="1.3" stroke-linecap="butt" stroke-linejoin="round"/>
<path d="M236.60,566.10 C240.80,563.67 255.32,555.77 261.80,551.50 C268.28,547.23 273.22,542.33 275.50,540.50" fill="none" stroke="#0000ff" stroke-width="1.3" stroke-linecap="butt" stroke-linejoin="round" stroke-dasharray="7.7 2.3 1.2 2.2"/>
<path d="M236.60,566.10 C240.80,563.63 255.32,555.60 261.80,551.30 C268.28,547.00 269.97,544.52 275.50,540.30 C281.03,536.08 288.65,530.95 295.00,526.00 C301.35,521.05 310.50,513.17 313.60,510.60" fill="none" stroke="#0000ff" stroke-width="1.6" stroke-linecap="butt" stroke-linejoin="round"/>
<path d="M313.30,510.50 C314.75,508.58 318.73,503.03 322.00,499.00 C325.27,494.97 329.57,490.08 332.90,486.30 C336.23,482.52 339.12,479.20 342.00,476.30 C344.88,473.40 348.83,470.13 350.20,468.90" fill="none" stroke="#0000ff" stroke-width="1.3" stroke-linecap="butt" stroke-linejoin="round" stroke-dasharray="4.6 2.8"/>
<path d="M265.00,563.00 C264.70,566.67 263.48,576.83 263.20,585.00 C262.92,593.17 263.08,603.50 263.30,612.00 C263.52,620.50 264.72,630.08 264.50,636.00 C264.28,641.92 262.42,645.58 262.00,647.50" fill="none" stroke="#9090c6" stroke-width="5.8" stroke-linecap="butt" stroke-linejoin="round" stroke-opacity="0.85"/>
<path d="M275.50,540.50 C274.35,542.55 270.42,548.92 268.60,552.80 C266.78,556.68 265.55,558.28 264.60,563.80 C263.65,569.32 263.08,577.63 262.90,585.90 C262.72,594.17 263.10,604.53 263.50,613.40 C263.90,622.27 265.00,634.82 265.30,639.10" fill="none" stroke="#0000ff" stroke-width="1.2" stroke-linecap="butt" stroke-linejoin="round" stroke-dasharray="7.7 2.3 1.2 2.2"/>
<path d="M305.00,532.00 C304.00,534.67 300.58,543.33 299.00,548.00 C297.42,552.67 296.45,556.00 295.50,560.00 C294.55,564.00 293.67,570.00 293.30,572.00" fill="none" stroke="#9090c6" stroke-width="5.8" stroke-linecap="butt" stroke-linejoin="round" stroke-opacity="0.85"/>
<path d="M313.60,510.60 C312.37,513.95 308.65,524.30 306.20,530.70 C303.75,537.10 301.13,541.63 298.90,549.00 C296.67,556.37 293.82,570.58 292.80,574.90" fill="none" stroke="#0000ff" stroke-width="1.3" stroke-linecap="butt" stroke-linejoin="round"/>
<path d="M346.00,491.00 C345.33,494.83 343.13,506.50 342.00,514.00 C340.87,521.50 339.80,529.83 339.20,536.00 C338.60,542.17 338.53,548.50 338.40,551.00" fill="none" stroke="#9090c6" stroke-width="5.8" stroke-linecap="butt" stroke-linejoin="round" stroke-opacity="0.85"/>
<path d="M350.30,468.90 C349.68,471.87 347.98,479.15 346.60,486.70 C345.22,494.25 343.28,505.65 342.00,514.20 C340.72,522.75 339.52,531.57 338.90,538.00 C338.28,544.43 338.40,550.33 338.30,552.80" fill="none" stroke="#0000ff" stroke-width="1.3" stroke-linecap="butt" stroke-linejoin="round" stroke-dasharray="4.6 2.8"/>
</g>
<path d="M271.90,540.50H279.10M275.50,536.90V544.10" stroke="#0000ff" stroke-width="1.3" fill="none"/>
<path d="M310.00,510.60H317.20M313.60,507.00V514.20" stroke="#0000ff" stroke-width="1.3" fill="none"/>
<path d="M346.70,468.90H353.90M350.30,465.30V472.50" stroke="#0000ff" stroke-width="1.3" fill="none"/>
<path d="M261.70,639.10H268.90M265.30,635.50V642.70" stroke="#0000ff" stroke-width="1.3" fill="none"/>
<path d="M289.20,574.90H296.40M292.80,571.30V578.50" stroke="#0000ff" stroke-width="1.3" fill="none"/>
<path d="M334.70,552.80H341.90M338.30,549.20V556.40" stroke="#0000ff" stroke-width="1.3" fill="none"/>
<rect x="66.0" y="395.2" width="342.4" height="252.3" fill="none" stroke="#000" stroke-width="1.5"/>
<path d="M114.93,647.5v-3.0M114.93,395.2v3.0M163.86,647.5v-3.0M163.86,395.2v3.0M212.79,647.5v-3.0M212.79,395.2v3.0M261.72,647.5v-3.0M261.72,395.2v3.0M310.65,647.5v-3.0M310.65,395.2v3.0M359.58,647.5v-3.0M359.58,395.2v3.0" stroke="#000" stroke-width="1.2" fill="none"/>
<path d="M66.0,639.90h4.1M408.4,639.90h-4.1M66.0,610.72h4.1M408.4,610.72h-4.1M66.0,590.02h4.1M408.4,590.02h-4.1M66.0,560.84h4.1M408.4,560.84h-4.1M66.0,524.08h4.1M408.4,524.08h-4.1M66.0,474.20h4.1M408.4,474.20h-4.1M66.0,445.02h4.1M408.4,445.02h-4.1M66.0,424.32h4.1M408.4,424.32h-4.1" stroke="#000" stroke-width="1.2" fill="none"/>
<text transform="translate(66.40,669.40) scale(0.95,1)" font-family='"Liberation Sans", sans-serif' font-size="15.8" text-anchor="middle">10<tspan font-size="12.6" dy="-7.5">-5</tspan></text>
<text transform="translate(115.33,669.40) scale(0.95,1)" font-family='"Liberation Sans", sans-serif' font-size="15.8" text-anchor="middle">10<tspan font-size="12.6" dy="-7.5">-4</tspan></text>
<text transform="translate(164.26,669.40) scale(0.95,1)" font-family='"Liberation Sans", sans-serif' font-size="15.8" text-anchor="middle">10<tspan font-size="12.6" dy="-7.5">-3</tspan></text>
<text transform="translate(213.19,669.40) scale(0.95,1)" font-family='"Liberation Sans", sans-serif' font-size="15.8" text-anchor="middle">10<tspan font-size="12.6" dy="-7.5">-2</tspan></text>
<text transform="translate(262.12,669.40) scale(0.95,1)" font-family='"Liberation Sans", sans-serif' font-size="15.8" text-anchor="middle">10<tspan font-size="12.6" dy="-7.5">-1</tspan></text>
<text transform="translate(310.65,669.40) scale(0.95,1)" font-family='"Liberation Sans", sans-serif' font-size="15.8" text-anchor="middle" >1</text>
<text transform="translate(359.58,669.40) scale(0.95,1)" font-family='"Liberation Sans", sans-serif' font-size="15.8" text-anchor="middle" >10</text>
<text transform="translate(408.91,669.40) scale(0.95,1)" font-family='"Liberation Sans", sans-serif' font-size="15.8" text-anchor="middle">10<tspan font-size="12.6" dy="-7.5">2</tspan></text>
<text transform="translate(56.50,645.20) scale(0.95,1)" font-family='"Liberation Sans", sans-serif' font-size="15.8" text-anchor="end" >1</text>
<text transform="translate(56.50,616.02) scale(0.95,1)" font-family='"Liberation Sans", sans-serif' font-size="15.8" text-anchor="end" >1.5</text>
<text transform="translate(56.50,595.32) scale(0.95,1)" font-family='"Liberation Sans", sans-serif' font-size="15.8" text-anchor="end" >2</text>
<text transform="translate(56.50,566.14) scale(0.95,1)" font-family='"Liberation Sans", sans-serif' font-size="15.8" text-anchor="end" >3</text>
<text transform="translate(56.50,529.38) scale(0.95,1)" font-family='"Liberation Sans", sans-serif' font-size="15.8" text-anchor="end" >5</text>
<text transform="translate(56.50,479.50) scale(0.95,1)" font-family='"Liberation Sans", sans-serif' font-size="15.8" text-anchor="end" >10</text>
<text transform="translate(56.50,450.32) scale(0.95,1)" font-family='"Liberation Sans", sans-serif' font-size="15.8" text-anchor="end" >15</text>
<text transform="translate(56.50,429.62) scale(0.95,1)" font-family='"Liberation Sans", sans-serif' font-size="15.8" text-anchor="end" >20</text>
<path d="M84.30,406.80H123.80" fill="none" stroke="#000000" stroke-width="1.3" stroke-linecap="butt" stroke-linejoin="round" stroke-dasharray="7.7 2.3 1.2 2.2"/>
<text transform="translate(215.50,411.40) scale(0.95,1)" font-family='"Liberation Sans", sans-serif' font-size="15.8" text-anchor="end">c<tspan font-size="12.6" dy="4.3">s</tspan><tspan dy="-4.3">=0.03</tspan></text>
<path d="M84.30,425.20H123.80" fill="none" stroke="#000000" stroke-width="1.3" stroke-linecap="butt" stroke-linejoin="round"/>
<text transform="translate(215.50,429.80) scale(0.95,1)" font-family='"Liberation Sans", sans-serif' font-size="15.8" text-anchor="end">c<tspan font-size="12.6" dy="4.3">s</tspan><tspan dy="-4.3">=0.1</tspan></text>
<path d="M84.30,443.60H123.80" fill="none" stroke="#000000" stroke-width="1.3" stroke-linecap="butt" stroke-linejoin="round" stroke-dasharray="4.6 2.8"/>
<text transform="translate(215.50,448.20) scale(0.95,1)" font-family='"Liberation Sans", sans-serif' font-size="15.8" text-anchor="end">c<tspan font-size="12.6" dy="4.3">s</tspan><tspan dy="-4.3">=0.2</tspan></text>
<path d="M84.30,462.00H123.80" fill="none" stroke="#0000ff" stroke-width="1.3" stroke-linecap="butt" stroke-linejoin="round" stroke-dasharray="7.7 2.3 1.2 2.2"/>
<text transform="translate(215.50,466.60) scale(0.95,1)" font-family='"Liberation Sans", sans-serif' font-size="15.8" text-anchor="end">v<tspan font-size="12.6" dy="4.3">A0</tspan><tspan dy="-4.3">=10/3c</tspan><tspan font-size="12.6" dy="4.3">s</tspan></text>
<path d="M84.30,480.40H123.80" fill="none" stroke="#0000ff" stroke-width="1.3" stroke-linecap="butt" stroke-linejoin="round"/>
<text transform="translate(215.50,485.00) scale(0.95,1)" font-family='"Liberation Sans", sans-serif' font-size="15.8" text-anchor="end">v<tspan font-size="12.6" dy="4.3">A0</tspan><tspan dy="-4.3">=c</tspan><tspan font-size="12.6" dy="4.3">s</tspan></text>
<path d="M84.30,498.80H123.80" fill="none" stroke="#0000ff" stroke-width="1.3" stroke-linecap="butt" stroke-linejoin="round" stroke-dasharray="4.6 2.8"/>
<text transform="translate(215.50,503.40) scale(0.95,1)" font-family='"Liberation Sans", sans-serif' font-size="15.8" text-anchor="end">v<tspan font-size="12.6" dy="4.3">A0</tspan><tspan dy="-4.3">=0.3c</tspan><tspan font-size="12.6" dy="4.3">s</tspan></text>
<text transform="translate(282.00,474.00) scale(0.95,1)" font-family='"Liberation Sans", sans-serif' font-size="15.8" text-anchor="start">c<tspan font-size="12.6" dy="4.3">s</tspan><tspan dy="-4.3">=0.083</tspan></text>
<text transform="translate(256.00,515.00) scale(0.95,1)" font-family='"Liberation Sans", sans-serif' font-size="15.8" text-anchor="start">c<tspan font-size="12.6" dy="4.3">s</tspan><tspan dy="-4.3">=0.08</tspan></text>
<text transform="translate(217.50,545.00) scale(0.95,1)" font-family='"Liberation Sans", sans-serif' font-size="15.8" text-anchor="start">c<tspan font-size="12.6" dy="4.3">s</tspan><tspan dy="-4.3">=0.09</tspan></text>
<text transform="translate(343.50,556.50) scale(0.95,1)" font-family='"Liberation Sans", sans-serif' font-size="15.8" text-anchor="start">c<tspan font-size="12.6" dy="4.3">s</tspan><tspan dy="-4.3">=0.57</tspan></text>
<text transform="translate(298.00,578.50) scale(0.95,1)" font-family='"Liberation Sans", sans-serif' font-size="15.8" text-anchor="start">c<tspan font-size="12.6" dy="4.3">s</tspan><tspan dy="-4.3">=0.70</tspan></text>
<text transform="translate(270.50,639.80) scale(0.95,1)" font-family='"Liberation Sans", sans-serif' font-size="15.8" text-anchor="start">c<tspan font-size="12.6" dy="4.3">s</tspan><tspan dy="-4.3">=0.75</tspan></text>
<text transform="translate(237.50,376.70) scale(0.95,1)" font-family='"Liberation Sans", sans-serif' font-size="15.8" text-anchor="middle" >q=0.25</text>
<text x="237.5" y="689" font-family='"Liberation Serif", serif' font-size="16" text-anchor="middle">μ</text>
<text transform="translate(15.8,549.5) rotate(-90) scale(0.95,1)" font-family='"Liberation Sans", sans-serif' font-size="15.8">-B<tspan font-family='"Liberation Serif", serif' font-size="14.5" dy="5">φ</tspan><tspan dy="-5">/B</tspan><tspan font-size="12.6" dy="5">p</tspan><tspan dy="-5">|</tspan><tspan font-size="12.6" dy="5">A</tspan></text>
<clipPath id="c4"><rect x="493.3" y="395.2" width="342.49999999999994" height="252.3"/></clipPath>
<g clip-path="url(#c4)">
<path d="M493.3,613.3H835.8" fill="none" stroke="#a8a8a8" stroke-width="1.0" stroke-linecap="butt" stroke-linejoin="round" stroke-dasharray="6.5 3"/>
<path d="M735.4,647.25L803.7,394.5" fill="none" stroke="#999" stroke-width="0.7" stroke-linecap="butt" stroke-linejoin="round" stroke-dasharray="5 3"/>
<path d="M600.00,613.20 C605.00,613.10 621.43,612.97 630.00,612.60 C638.57,612.23 643.63,611.72 651.40,611.00 C659.17,610.28 670.17,609.15 676.60,608.30 C683.03,607.45 685.85,606.97 690.00,605.90 C694.15,604.83 697.12,603.82 701.50,601.90 C705.88,599.98 711.53,597.37 716.30,594.40 C721.07,591.43 725.90,587.43 730.10,584.10 C734.30,580.77 738.25,577.45 741.50,574.40 C744.75,571.35 746.52,569.62 749.60,565.80 C752.68,561.98 756.47,556.93 760.00,551.50 C763.53,546.07 767.67,538.53 770.80,533.20 C773.93,527.87 775.93,524.65 778.80,519.50 C781.67,514.35 785.13,508.38 788.00,502.30 C790.87,496.22 793.07,490.05 796.00,483.00 C798.93,475.95 800.70,472.63 805.60,460.00 C810.50,447.37 822.10,416.00 825.40,407.20" fill="none" stroke="#000000" stroke-width="1.3" stroke-linecap="butt" stroke-linejoin="round" stroke-dasharray="4.6 2.8"/>
<path d="M590.00,613.00 C595.00,612.88 609.77,612.97 620.00,612.30 C630.23,611.63 641.97,610.22 651.40,609.00 C660.83,607.78 670.17,606.10 676.60,605.00 C683.03,603.90 685.85,603.60 690.00,602.40 C694.15,601.20 697.12,599.90 701.50,597.80 C705.88,595.70 711.53,593.13 716.30,589.80 C721.07,586.47 725.90,581.72 730.10,577.80 C734.30,573.88 738.25,569.73 741.50,566.30 C744.75,562.87 747.50,559.97 749.60,557.20 C751.70,554.43 752.58,552.18 754.10,549.70 C755.62,547.22 756.87,545.43 758.70,542.30 C760.53,539.17 762.80,535.08 765.10,530.90 C767.40,526.72 769.83,522.35 772.50,517.20 C775.17,512.05 778.63,505.17 781.10,500.00 C783.57,494.83 784.75,492.87 787.30,486.20 C789.85,479.53 792.15,471.07 796.40,460.00 C800.65,448.93 810.07,426.50 812.80,419.80" fill="none" stroke="#000000" stroke-width="1.3" stroke-linecap="butt" stroke-linejoin="round"/>
<path d="M532.80,613.30 C540.67,613.25 566.97,613.17 580.00,613.00 C593.03,612.83 601.83,612.70 611.00,612.30 C620.17,611.90 628.27,611.33 635.00,610.60 C641.73,609.87 644.47,609.20 651.40,607.90 C658.33,606.60 670.17,604.18 676.60,602.80 C683.03,601.42 685.85,600.90 690.00,599.60 C694.15,598.30 697.12,597.10 701.50,595.00 C705.88,592.90 711.53,590.43 716.30,587.00 C721.07,583.57 725.90,578.52 730.10,574.40 C734.30,570.28 738.25,565.93 741.50,562.30 C744.75,558.67 747.50,555.27 749.60,552.60 C751.70,549.93 752.03,549.82 754.10,546.30 C756.17,542.78 759.40,536.35 762.00,531.50 C764.60,526.65 768.42,519.58 769.70,517.20" fill="none" stroke="#000000" stroke-width="1.3" stroke-linecap="butt" stroke-linejoin="round" stroke-dasharray="7.7 2.3 1.2 2.2"/>
<path d="M611.00,612.30 C615.00,612.02 628.27,611.33 635.00,610.60 C641.73,609.87 644.47,609.20 651.40,607.90 C658.33,606.60 670.17,604.18 676.60,602.80 C683.03,601.42 685.85,600.90 690.00,599.60 C694.15,598.30 697.12,597.10 701.50,595.00 C705.88,592.90 713.83,588.33 716.30,587.00" fill="none" stroke="#0000ff" stroke-width="1.3" stroke-linecap="butt" stroke-linejoin="round" stroke-dasharray="7.7 2.3 1.2 2.2"/>
<path d="M611.00,612.30 C615.00,612.02 628.27,611.33 635.00,610.60 C641.73,609.87 644.47,609.20 651.40,607.90 C658.33,606.60 670.17,604.18 676.60,602.80 C683.03,601.42 685.85,600.90 690.00,599.60 C694.15,598.30 697.12,597.10 701.50,595.00 C705.88,592.90 711.53,590.43 716.30,587.00 C721.07,583.57 725.90,578.52 730.10,574.40 C734.30,570.28 738.25,565.93 741.50,562.30 C744.75,558.67 747.50,555.27 749.60,552.60 C751.70,549.93 753.35,547.35 754.10,546.30" fill="none" stroke="#0000ff" stroke-width="1.4" stroke-linecap="butt" stroke-linejoin="round"/>
<path d="M774.40,504.00 L786.30,486.20" fill="none" stroke="#0000ff" stroke-width="1.3" stroke-linecap="butt" stroke-linejoin="round" stroke-dasharray="4.6 2.8"/>
<path d="M706.30,605.30 L689.30,626.00" fill="none" stroke="#9090c6" stroke-width="6" stroke-linecap="butt" stroke-linejoin="round" stroke-opacity="0.85"/>
<path d="M716.30,587.00 C715.17,589.10 711.97,595.60 709.50,599.60 C707.03,603.60 705.17,606.12 701.50,611.00 C697.83,615.88 689.83,625.92 687.50,628.90" fill="none" stroke="#0000ff" stroke-width="1.4" stroke-linecap="butt" stroke-linejoin="round" stroke-dasharray="7.7 2.3 1.2 2.2"/>
<path d="M747.40,569.50 C746.67,572.58 744.62,581.25 743.00,588.00 C741.38,594.75 739.40,603.00 737.70,610.00 C736.00,617.00 733.62,626.67 732.80,630.00" fill="none" stroke="#9090c6" stroke-width="5.8" stroke-linecap="butt" stroke-linejoin="round" stroke-opacity="0.85"/>
<path d="M754.10,546.30 C753.53,549.07 752.22,557.27 750.70,562.90 C749.18,568.53 747.10,572.08 745.00,580.10 C742.90,588.12 740.13,602.35 738.10,611.00 C736.07,619.65 733.68,628.50 732.80,632.00" fill="none" stroke="#0000ff" stroke-width="1.3" stroke-linecap="butt" stroke-linejoin="round"/>
<path d="M782.80,510.50 C782.30,513.75 780.87,523.58 779.80,530.00 C778.73,536.42 776.97,545.83 776.40,549.00" fill="none" stroke="#9090c6" stroke-width="5.8" stroke-linecap="butt" stroke-linejoin="round" stroke-opacity="0.85"/>
<path d="M786.30,486.20 C785.85,490.40 784.73,503.43 783.60,511.40 C782.47,519.37 780.73,527.33 779.50,534.00 C778.27,540.67 776.75,548.50 776.20,551.40" fill="none" stroke="#0000ff" stroke-width="1.3" stroke-linecap="butt" stroke-linejoin="round" stroke-dasharray="4.6 2.8"/>
</g>
<path d="M712.70,587.00H719.90M716.30,583.40V590.60" stroke="#0000ff" stroke-width="1.3" fill="none"/>
<path d="M683.90,628.90H691.10M687.50,625.30V632.50" stroke="#0000ff" stroke-width="1.3" fill="none"/>
<path d="M750.50,546.30H757.70M754.10,542.70V549.90" stroke="#0000ff" stroke-width="1.3" fill="none"/>
<path d="M729.20,632.00H736.40M732.80,628.40V635.60" stroke="#0000ff" stroke-width="1.3" fill="none"/>
<path d="M782.70,486.20H789.90M786.30,482.60V489.80" stroke="#0000ff" stroke-width="1.3" fill="none"/>
<path d="M772.60,551.40H779.80M776.20,547.80V555.00" stroke="#0000ff" stroke-width="1.3" fill="none"/>
<rect x="493.3" y="395.2" width="342.49999999999994" height="252.3" fill="none" stroke="#000" stroke-width="1.5"/>
<path d="M542.23,647.5v-3.0M542.23,395.2v3.0M591.16,647.5v-3.0M591.16,395.2v3.0M640.09,647.5v-3.0M640.09,395.2v3.0M689.02,647.5v-3.0M689.02,395.2v3.0M737.95,647.5v-3.0M737.95,395.2v3.0M786.88,647.5v-3.0M786.88,395.2v3.0" stroke="#000" stroke-width="1.2" fill="none"/>
<path d="M493.3,615.72h4.1M835.8,615.72h-4.1M493.3,593.16h4.1M835.8,593.16h-4.1M493.3,561.38h4.1M835.8,561.38h-4.1M493.3,521.34h4.1M835.8,521.34h-4.1M493.3,467.00h4.1M835.8,467.00h-4.1M493.3,435.22h4.1M835.8,435.22h-4.1M493.3,412.66h4.1M835.8,412.66h-4.1" stroke="#000" stroke-width="1.2" fill="none"/>
<text transform="translate(493.70,669.40) scale(0.95,1)" font-family='"Liberation Sans", sans-serif' font-size="15.8" text-anchor="middle">10<tspan font-size="12.6" dy="-7.5">-5</tspan></text>
<text transform="translate(542.63,669.40) scale(0.95,1)" font-family='"Liberation Sans", sans-serif' font-size="15.8" text-anchor="middle">10<tspan font-size="12.6" dy="-7.5">-4</tspan></text>
<text transform="translate(591.56,669.40) scale(0.95,1)" font-family='"Liberation Sans", sans-serif' font-size="15.8" text-anchor="middle">10<tspan font-size="12.6" dy="-7.5">-3</tspan></text>
<text transform="translate(640.49,669.40) scale(0.95,1)" font-family='"Liberation Sans", sans-serif' font-size="15.8" text-anchor="middle">10<tspan font-size="12.6" dy="-7.5">-2</tspan></text>
<text transform="translate(689.42,669.40) scale(0.95,1)" font-family='"Liberation Sans", sans-serif' font-size="15.8" text-anchor="middle">10<tspan font-size="12.6" dy="-7.5">-1</tspan></text>
<text transform="translate(737.95,669.40) scale(0.95,1)" font-family='"Liberation Sans", sans-serif' font-size="15.8" text-anchor="middle" >1</text>
<text transform="translate(786.88,669.40) scale(0.95,1)" font-family='"Liberation Sans", sans-serif' font-size="15.8" text-anchor="middle" >10</text>
<text transform="translate(836.21,669.40) scale(0.95,1)" font-family='"Liberation Sans", sans-serif' font-size="15.8" text-anchor="middle">10<tspan font-size="12.6" dy="-7.5">2</tspan></text>
<text transform="translate(483.80,652.80) scale(0.95,1)" font-family='"Liberation Sans", sans-serif' font-size="15.8" text-anchor="end" >1</text>
<text transform="translate(483.80,621.02) scale(0.95,1)" font-family='"Liberation Sans", sans-serif' font-size="15.8" text-anchor="end" >1.5</text>
<text transform="translate(483.80,598.46) scale(0.95,1)" font-family='"Liberation Sans", sans-serif' font-size="15.8" text-anchor="end" >2</text>
<text transform="translate(483.80,566.68) scale(0.95,1)" font-family='"Liberation Sans", sans-serif' font-size="15.8" text-anchor="end" >3</text>
<text transform="translate(483.80,526.64) scale(0.95,1)" font-family='"Liberation Sans", sans-serif' font-size="15.8" text-anchor="end" >5</text>
<text transform="translate(483.80,472.30) scale(0.95,1)" font-family='"Liberation Sans", sans-serif' font-size="15.8" text-anchor="end" >10</text>
<text transform="translate(483.80,440.52) scale(0.95,1)" font-family='"Liberation Sans", sans-serif' font-size="15.8" text-anchor="end" >15</text>
<text transform="translate(483.80,417.96) scale(0.95,1)" font-family='"Liberation Sans", sans-serif' font-size="15.8" text-anchor="end" >20</text>
<path d="M511.80,406.80H551.30" fill="none" stroke="#000000" stroke-width="1.3" stroke-linecap="butt" stroke-linejoin="round" stroke-dasharray="7.7 2.3 1.2 2.2"/>
<text transform="translate(643.00,411.40) scale(0.95,1)" font-family='"Liberation Sans", sans-serif' font-size="15.8" text-anchor="end">c<tspan font-size="12.6" dy="4.3">s</tspan><tspan dy="-4.3">=0.03</tspan></text>
<path d="M511.80,425.20H551.30" fill="none" stroke="#000000" stroke-width="1.3" stroke-linecap="butt" stroke-linejoin="round"/>
<text transform="translate(643.00,429.80) scale(0.95,1)" font-family='"Liberation Sans", sans-serif' font-size="15.8" text-anchor="end">c<tspan font-size="12.6" dy="4.3">s</tspan><tspan dy="-4.3">=0.1</tspan></text>
<path d="M511.80,443.60H551.30" fill="none" stroke="#000000" stroke-width="1.3" stroke-linecap="butt" stroke-linejoin="round" stroke-dasharray="4.6 2.8"/>
<text transform="translate(643.00,448.20) scale(0.95,1)" font-family='"Liberation Sans", sans-serif' font-size="15.8" text-anchor="end">c<tspan font-size="12.6" dy="4.3">s</tspan><tspan dy="-4.3">=0.2</tspan></text>
<path d="M511.80,462.00H551.30" fill="none" stroke="#0000ff" stroke-width="1.3" stroke-linecap="butt" stroke-linejoin="round" stroke-dasharray="7.7 2.3 1.2 2.2"/>
<text transform="translate(643.00,466.60) scale(0.95,1)" font-family='"Liberation Sans", sans-serif' font-size="15.8" text-anchor="end">v<tspan font-size="12.6" dy="4.3">A0</tspan><tspan dy="-4.3">=10/3c</tspan><tspan font-size="12.6" dy="4.3">s</tspan></text>
<path d="M511.80,480.40H551.30" fill="none" stroke="#0000ff" stroke-width="1.3" stroke-linecap="butt" stroke-linejoin="round"/>
<text transform="translate(643.00,485.00) scale(0.95,1)" font-family='"Liberation Sans", sans-serif' font-size="15.8" text-anchor="end">v<tspan font-size="12.6" dy="4.3">A0</tspan><tspan dy="-4.3">=c</tspan><tspan font-size="12.6" dy="4.3">s</tspan></text>
<path d="M511.80,498.80H551.30" fill="none" stroke="#0000ff" stroke-width="1.3" stroke-linecap="butt" stroke-linejoin="round" stroke-dasharray="4.6 2.8"/>
<text transform="translate(643.00,503.40) scale(0.95,1)" font-family='"Liberation Sans", sans-serif' font-size="15.8" text-anchor="end">v<tspan font-size="12.6" dy="4.3">A0</tspan><tspan dy="-4.3">=0.3c</tspan><tspan font-size="12.6" dy="4.3">s</tspan></text>
<text transform="translate(717.50,490.50) scale(0.95,1)" font-family='"Liberation Sans", sans-serif' font-size="15.8" text-anchor="start">c<tspan font-size="12.6" dy="4.3">s</tspan><tspan dy="-4.3">=0.087</tspan></text>
<text transform="translate(685.00,551.00) scale(0.95,1)" font-family='"Liberation Sans", sans-serif' font-size="15.8" text-anchor="start">c<tspan font-size="12.6" dy="4.3">s</tspan><tspan dy="-4.3">=0.079</tspan></text>
<text transform="translate(648.00,588.00) scale(0.95,1)" font-family='"Liberation Sans", sans-serif' font-size="15.8" text-anchor="start">c<tspan font-size="12.6" dy="4.3">s</tspan><tspan dy="-4.3">=0.084</tspan></text>
<text transform="translate(776.00,564.50) scale(0.95,1)" font-family='"Liberation Sans", sans-serif' font-size="15.8" text-anchor="start">c<tspan font-size="12.6" dy="4.3">s</tspan><tspan dy="-4.3">=0.33</tspan></text>
<text transform="translate(628.50,633.50) scale(0.95,1)" font-family='"Liberation Sans", sans-serif' font-size="15.8" text-anchor="start">c<tspan font-size="12.6" dy="4.3">s</tspan><tspan dy="-4.3">=0.54</tspan></text>
<text transform="translate(743.00,636.00) scale(0.95,1)" font-family='"Liberation Sans", sans-serif' font-size="15.8" text-anchor="start">c<tspan font-size="12.6" dy="4.3">s</tspan><tspan dy="-4.3">=0.55</tspan></text>
<text transform="translate(665.00,376.70) scale(0.95,1)" font-family='"Liberation Sans", sans-serif' font-size="15.8" text-anchor="middle" >q=∞</text>
<text x="665" y="689" font-family='"Liberation Serif", serif' font-size="16" text-anchor="middle">μ</text>
<text transform="translate(443.3,549.5) rotate(-90) scale(0.95,1)" font-family='"Liberation Sans", sans-serif' font-size="15.8">-B<tspan font-family='"Liberation Serif", serif' font-size="14.5" dy="5">φ</tspan><tspan dy="-5">/B</tspan><tspan font-size="12.6" dy="5">p</tspan><tspan dy="-5">|</tspan><tspan font-size="12.6" dy="5">A</tspan></text>
</svg>
</body></html>
